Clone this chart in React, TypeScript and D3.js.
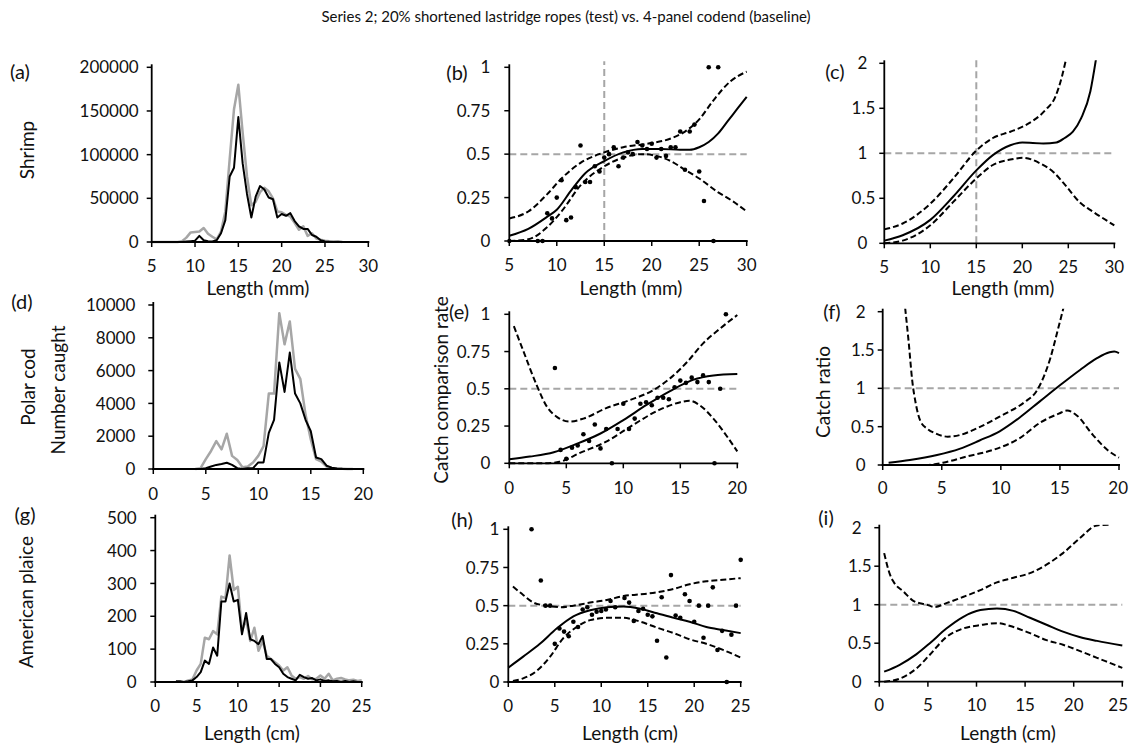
import React from "react";
import * as d3 from "d3";

const FONT = "Lato, 'Open Sans', 'DejaVu Sans', sans-serif";
const GREY = "#a6a6a6";

// ---------------- Length-frequency data ----------------
const shrimpLengths = [5,5.5,6,6.5,7,7.5,8,8.5,9,9.5,10,10.5,11,11.5,12,12.5,13,13.5,14,14.5,15,15.5,16,16.5,17,17.5,18,18.5,19,19.5,20,20.5,21,21.5,22,22.5,23,23.5,24,24.5,25,25.5,26,26.5,27];
const shrimpBaseline = [0,0,0,0,0,0,0,1000,5000,11000,11500,12000,16000,9500,6000,3000,12000,35000,95000,152000,180000,125000,75000,42000,46000,57000,62000,58000,50000,35000,34000,31000,29000,22000,14000,18000,7000,10000,4000,2500,1500,1000,500,1000,0];
const shrimpTest = [0,0,0,0,0,0,0,0,500,1000,1500,7000,2000,1000,500,2000,10000,25000,75000,85000,143000,90000,55000,28000,52000,64000,60000,51000,49000,28000,32000,30000,33000,24000,18000,15000,15000,8000,6000,2000,500,200,100,0,0];

const codLengths = [4,4.5,5,5.5,6,6.5,7,7.5,8,8.5,9,9.5,10,10.5,11,11.5,12,12.5,13,13.5,14,14.5,15,15.5,16,16.5,17,17.5,18,18.5,19];
const codBaseline = [0,50,600,1100,1700,1200,2150,800,550,100,150,400,800,1400,4600,4600,9500,7600,9000,6100,5500,3300,1800,600,450,150,50,20,10,0,0];
const codTest = [0,0,50,150,250,300,380,250,50,0,50,50,400,400,2200,3000,6500,4700,7100,4600,4000,3000,2300,700,600,200,80,30,10,0,0];

const plaiceLengths = [2.5,3,3.5,4,4.5,5,5.5,6,6.5,7,7.5,8,8.5,9,9.5,10,10.5,11,11.5,12,12.5,13,13.5,14,14.5,15,15.5,16,16.5,17,17.5,18,18.5,19,19.5,20,20.5,21,21.5,22,22.5,23,23.5,24,24.5,25];
const plaiceBaseline: (number | null)[] = [null,null,0,5,8,35,55,135,130,155,145,260,255,385,280,290,155,190,125,165,95,125,80,70,60,50,35,45,20,10,15,10,18,8,10,20,10,25,5,10,12,8,5,7,3,5];
const plaiceTest = [2,2,0,2,5,15,30,65,55,105,80,245,245,300,245,250,145,210,130,125,115,140,70,70,55,45,25,15,10,5,22,15,10,12,5,8,3,5,2,3,1,3,0,2,0,0];

// ---------------- Catch comparison observations ----------------
const shrimpCCX = [5,8,8.5,9,9.5,10,10.5,11,11.5,12,12.5,13,13.5,14,14.5,15,15.5,16,16.5,17,17.5,18,18.5,19,19.5,20,20.5,21,21.5,22,22.5,23,23.5,24,24.5,25,25.5,26,26.5,27];
const shrimpCCY = [0,0,0,0.16,0.13,0.25,0.35,0.12,0.135,0.31,0.55,0.34,0.34,0.43,0.40,0.48,0.50,0.54,0.43,0.48,0.51,0.50,0.57,0.55,0.53,0.56,0.48,0.53,0.49,0.54,0.54,0.63,0.41,0.63,0.67,0.40,0.23,1.0,0,1.0];
const codCCX = [4,4.5,5,5.5,6,6.5,7,7.5,8,8.5,9,9.5,10,10.5,11,11.5,12,12.5,13,13.5,14,14.5,15,15.5,16,16.5,17,17.5,18,18.5,19];
const codCCY = [0.64,0.09,0.03,0.105,0.12,0.195,0.15,0.26,0.10,0.23,0,0.23,0.40,0.23,0.30,0.40,0.41,0.39,0.44,0.44,0.43,0.51,0.555,0.54,0.575,0.545,0.59,0.545,0,0.50,1.0];
const plaiceCCX = [2.5,3.5,4,4.5,5,5.5,6,6.5,7,7.5,8,8.5,9,9.5,10,10.5,11,11.5,12.5,13,13.5,14,14.5,15,15.5,16,16.5,17,17.5,18,18.5,19,19.5,20,20.5,21,21.5,22,22.5,23,23.5,24,24.5,25];
const plaiceCCY = [1.0,0.665,0.5,0.5,0.25,0.35,0.33,0.30,0.395,0.36,0.475,0.49,0.44,0.46,0.465,0.475,0.53,0.49,0.55,0.52,0.40,0.465,0.48,0.44,0.43,0.27,0.555,0.16,0.70,0.435,0.42,0.575,0.53,0.395,0.5,0.29,0.5,0.62,0.21,0.335,0,0.31,0.5,0.80];

// ---------------- Fitted curves (estimate, upper CI, lower CI) ----------------
const bFitX = [5,7,9,10,11.5,13,15,17,19,21,23,24,25,26,27,28,29,30];
const bFitY = [0.03,0.07,0.14,0.18,0.29,0.39,0.46,0.51,0.53,0.53,0.525,0.525,0.54,0.57,0.62,0.69,0.76,0.83];
const bUpX = [5,7,9,10.5,12.5,15,17,19.5,22,23.5,25,26.5,28.3,30];
const bUpY = [0.13,0.17,0.27,0.36,0.45,0.51,0.54,0.56,0.59,0.63,0.70,0.81,0.92,0.975];
const bLoX = [5,7,9,10.5,12.5,15,17,19,20.5,22,23.5,25,27,28.5,30];
const bLoY = [0,0.01,0.08,0.17,0.32,0.43,0.48,0.50,0.49,0.46,0.41,0.36,0.28,0.23,0.17];

const cFitX = [5,7,10,12.5,15,16.8,18.7,20,22.3,23.7,24.6,25.5,26.4,27.4,28];
const cFitY = [0.03,0.09,0.26,0.52,0.81,0.98,1.09,1.12,1.11,1.12,1.17,1.24,1.39,1.69,2.04];
const cUpX = [5,7,10,12.5,15,16.8,18.7,20.3,22.5,23.6,24.3,24.7];
const cUpY = [0.155,0.22,0.44,0.72,1.03,1.17,1.24,1.31,1.48,1.63,1.85,2.02];
const cLoX = [5,7,10,12.5,15,16.8,18.7,20.1,21.9,23.4,24.8,26.3,27.7,30];
const cLoY = [0,0.03,0.2,0.46,0.72,0.87,0.93,0.95,0.89,0.79,0.63,0.45,0.35,0.2];

const eFitX = [0,1.8,3.9,5.9,8,10,12,14.1,16.1,17.9,20];
const eFitY = [0.027,0.045,0.074,0.13,0.2,0.29,0.39,0.485,0.56,0.59,0.6];
const eUpX = [0.4,1.2,2.4,3.3,4.2,5.3,6.5,8.5,10.6,12.6,14.1,15.6,17,18.5,20];
const eUpY = [0.92,0.76,0.525,0.38,0.31,0.28,0.3,0.37,0.425,0.49,0.57,0.68,0.805,0.905,0.995];
const eLoX = [0,3,4.4,6.2,8.5,10.9,13.2,15,15.8,16.7,17.9,19.1,20];
const eLoY = [0,0,0.01,0.07,0.145,0.26,0.36,0.41,0.42,0.39,0.30,0.18,0.08];

const fFitX = [0.5,2.3,4.6,6.5,8.2,9.9,11.6,13.3,15,16.7,18.1,19.2,19.6,20];
const fFitY = [0.03,0.065,0.13,0.21,0.32,0.44,0.62,0.83,1.04,1.24,1.39,1.47,1.48,1.46];
const fUpX = [1.9,2.2,2.5,2.8,3.2,3.8,4.5,5.5,6.5,8,10,12,13,13.6,14.2,14.8,15.3];
const fUpY = [2.05,1.6,1.1,0.8,0.57,0.47,0.41,0.37,0.39,0.48,0.64,0.82,0.96,1.14,1.4,1.75,2.05];
const fLoX = [0.5,3.7,5.1,7.1,9.4,11.6,13.3,14.9,15.6,16.4,17.8,19,20];
const fLoY = [0,0,0.03,0.11,0.2,0.35,0.55,0.67,0.71,0.65,0.39,0.2,0.095];

const hFitX = [0,1.6,3.4,5.2,7,8.8,10.6,12.4,14.2,16,17.8,19.5,21.3,23.1,25];
const hFitY = [0.094,0.166,0.25,0.35,0.43,0.47,0.49,0.495,0.48,0.45,0.42,0.395,0.36,0.34,0.32];
const hUpX = [0.5,1.6,2.7,4.1,5.6,7,8.8,10.6,12.4,14.2,16,17.8,19.5,21.3,23.1,25];
const hUpY = [0.625,0.57,0.52,0.5,0.49,0.5,0.52,0.537,0.563,0.574,0.587,0.61,0.64,0.66,0.67,0.68];
const hLoX = [0.5,1.6,3,4.5,5.9,7.35,8.8,10.6,12.4,14.2,16,17.8,19.5,21.3,23.1,25];
const hLoY = [0.007,0.024,0.07,0.166,0.286,0.36,0.405,0.42,0.42,0.395,0.356,0.32,0.28,0.25,0.21,0.16];

const iFitX = [0.5,2.1,3.8,5.2,6.9,8.6,10.4,12.1,13.8,15.5,17.2,18.9,20.6,22.4,25];
const iFitY = [0.13,0.22,0.355,0.5,0.69,0.84,0.93,0.95,0.92,0.83,0.74,0.65,0.58,0.53,0.47];
const iUpX = [0.5,1.1,1.45,2.5,3.5,4.9,5.7,6.9,8.6,10.4,12.1,13.8,15.5,17.2,18.9,20.6,22.4,23.7];
const iUpY = [1.67,1.39,1.3,1.17,1.05,1.0,0.97,1.02,1.1,1.19,1.29,1.35,1.41,1.52,1.67,1.86,2.03,2.04];
const iLoX = [0.5,2.1,3.8,5.2,6.9,8.6,10.4,12.1,13.8,15.5,17.2,18.9,20.6,22.4,25];
const iLoY = [0,0.04,0.17,0.35,0.58,0.69,0.735,0.76,0.71,0.63,0.54,0.48,0.4,0.31,0.18];

// ---------------- Ticks ----------------
const shrimpLenTicks = [5,10,15,20,25,30];
const codLenTicks = [0,5,10,15,20];
const plaiceLenTicks = [0,5,10,15,20,25];
const shrimpCountTicks = [0,50000,100000,150000,200000];
const codCountTicks = [0,2000,4000,6000,8000,10000];
const plaiceCountTicks = [0,100,200,300,400,500];
const rateTicks = [0,0.25,0.5,0.75,1];
const ratioTicks = [0,0.5,1,1.5,2];

const TITLE = "Series 2; 20% shortened lastridge ropes (test) vs. 4-panel codend (baseline)";

type Line = { xs: number[]; ys: (number | null)[]; color: string; width: number; dash?: string; smooth?: boolean };

interface Spec {
  id: string;
  label: string; labelX: number; labelY: number;
  x0: number; x1: number; yb: number; yt: number;
  xDomain: [number, number]; yDomain: [number, number];
  xTicks: number[]; yTicks: number[];
  yLabelGap: number; intShift?: number;
  xLabelY: number;
  hRef?: number; vRef?: number;
  lines: Line[];
  pts?: { xs: number[]; ys: number[] };
}

const W = 1129;
const TICK_FS = 17;
const solid = (xs: number[], ys: number[]): Line => ({ xs, ys, color: "#000", width: 2, smooth: true });
const dashed = (xs: number[], ys: number[]): Line => ({ xs, ys, color: "#000", width: 2, dash: "6,3", smooth: true });
const baseLine = (xs: number[], ys: (number | null)[]): Line => ({ xs, ys, color: GREY, width: 2.5 });
const testLine = (xs: number[], ys: (number | null)[]): Line => ({ xs, ys, color: "#000", width: 2 });

function Panel({ s }: { s: Spec }) {
  const x = d3.scaleLinear().domain(s.xDomain).range([s.x0, s.x1]);
  const y = d3.scaleLinear().domain(s.yDomain).range([s.yb, s.yt]);
  const clipId = `clip-${s.id}`;
  return (
    <g>
      <defs>
        <clipPath id={clipId}>
          <rect x={s.x0 - 2} y={s.yt - 3} width={s.x1 - s.x0 + 6} height={s.yb - s.yt + 6} />
        </clipPath>
      </defs>
      {s.hRef !== undefined && (
        <line x1={s.x0} x2={s.x1} y1={y(s.hRef)} y2={y(s.hRef)} stroke={GREY} strokeWidth={2} strokeDasharray="7,4" />
      )}
      {s.vRef !== undefined && (
        <line x1={x(s.vRef)} x2={x(s.vRef)} y1={s.yb} y2={s.yt - 6} stroke={GREY} strokeWidth={2} strokeDasharray="7,4" />
      )}
      <g clipPath={`url(#${clipId})`}>
        {s.lines.map((l, k) => {
          const gen = d3
            .line<number>()
            .defined((i) => l.ys[i] !== null)
            .x((i) => x(l.xs[i]))
            .y((i) => y(l.ys[i] as number))
            .curve(l.smooth ? d3.curveMonotoneX : d3.curveLinear);
          return (
            <path key={k} d={gen(d3.range(l.xs.length)) || ""} fill="none" stroke={l.color} strokeWidth={l.width}
              strokeDasharray={l.dash} strokeLinejoin="round" />
          );
        })}
        {s.pts && s.pts.xs.map((px, i) => (
          <circle key={i} cx={x(px)} cy={y(s.pts!.ys[i])} r={2.3} fill="#000" />
        ))}
      </g>
      {/* axes */}
      <line x1={s.x0} x2={s.x0} y1={s.yb + 1} y2={s.yt - 3} stroke="#000" strokeWidth={1.8} />
      <line x1={s.x0 - 1} x2={s.x1 + 1} y1={s.yb} y2={s.yb} stroke="#000" strokeWidth={1.8} />
      {s.yTicks.map((v) => (
        <g key={"y" + v}>
          <line x1={s.x0 - 5} x2={s.x0} y1={y(v)} y2={y(v)} stroke="#000" strokeWidth={1.5} />
          <text x={s.x0 - s.yLabelGap - (Number.isInteger(v) && s.intShift ? s.intShift : 0)} y={y(v)} dy="0.36em"
            textAnchor="end" fontSize={TICK_FS} fontFamily={FONT} fill="#111">{String(v)}</text>
        </g>
      ))}
      {s.xTicks.map((v) => {
        const px = x(v);
        const nearEdge = px > W - 14;
        return (
          <g key={"x" + v}>
            <line x1={px} x2={px} y1={s.yb} y2={s.yb + 5} stroke="#000" strokeWidth={1.5} />
            <text x={nearEdge ? W - 1 : px} y={s.xLabelY} dy="0.36em" textAnchor={nearEdge ? "end" : "middle"}
              fontSize={TICK_FS} fontFamily={FONT} fill="#111">{String(v)}</text>
          </g>
        );
      })}
      <text x={s.labelX} y={s.labelY} dy="0.36em" textAnchor="middle" fontSize={20} fontFamily={FONT} fill="#111">{s.label}</text>
    </g>
  );
}

const specs: Spec[] = [
  {
    id: "a", label: "(a)", labelX: 20, labelY: 72,
    x0: 151.7, x1: 368.3, yb: 242, yt: 67.3, xDomain: [5, 30], yDomain: [0, 200000],
    xTicks: shrimpLenTicks, yTicks: shrimpCountTicks, yLabelGap: 13, xLabelY: 266,
    lines: [baseLine(shrimpLengths, shrimpBaseline), testLine(shrimpLengths, shrimpTest)],
  },
  {
    id: "b", label: "(b)", labelX: 457, labelY: 73,
    x0: 509.3, x1: 746.7, yb: 241, yt: 67.3, xDomain: [5, 30], yDomain: [0, 1],
    xTicks: shrimpLenTicks, yTicks: rateTicks, yLabelGap: 19, xLabelY: 265, hRef: 0.5, vRef: 15,
    lines: [solid(bFitX, bFitY), dashed(bUpX, bUpY), dashed(bLoX, bLoY)],
    pts: { xs: shrimpCCX, ys: shrimpCCY },
  },
  {
    id: "c", label: "(c)", labelX: 835, labelY: 72,
    x0: 884.3, x1: 1114.3, yb: 243.3, yt: 63.3, xDomain: [5, 30], yDomain: [0, 2],
    xTicks: shrimpLenTicks, yTicks: ratioTicks, yLabelGap: 9, intShift: 8, xLabelY: 266.7, hRef: 1, vRef: 15,
    lines: [solid(cFitX, cFitY), dashed(cUpX, cUpY), dashed(cLoX, cLoY)],
  },
  {
    id: "d", label: "(d)", labelX: 22, labelY: 302,
    x0: 153.3, x1: 363.3, yb: 469, yt: 305, xDomain: [0, 20], yDomain: [0, 10000],
    xTicks: codLenTicks, yTicks: codCountTicks, yLabelGap: 18, xLabelY: 494,
    lines: [baseLine(codLengths, codBaseline), testLine(codLengths, codTest)],
  },
  {
    id: "e", label: "(e)", labelX: 459, labelY: 312,
    x0: 509.3, x1: 737.3, yb: 463.3, yt: 314.3, xDomain: [0, 20], yDomain: [0, 1],
    xTicks: codLenTicks, yTicks: rateTicks, yLabelGap: 19, xLabelY: 488, hRef: 0.5,
    lines: [solid(eFitX, eFitY), dashed(eUpX, eUpY), dashed(eLoX, eLoY)],
    pts: { xs: codCCX, ys: codCCY },
  },
  {
    id: "f", label: "(f)", labelX: 832, labelY: 312,
    x0: 882.7, x1: 1119, yb: 465, yt: 311.7, xDomain: [0, 20], yDomain: [0, 2],
    xTicks: codLenTicks, yTicks: ratioTicks, yLabelGap: 8, intShift: 9, xLabelY: 488, hRef: 1,
    lines: [solid(fFitX, fFitY), dashed(fUpX, fUpY), dashed(fLoX, fLoY)],
  },
  {
    id: "g", label: "(g)", labelX: 25, labelY: 515,
    x0: 155.3, x1: 361.7, yb: 682, yt: 517.7, xDomain: [0, 25], yDomain: [0, 500],
    xTicks: plaiceLenTicks, yTicks: plaiceCountTicks, yLabelGap: 18.6, xLabelY: 706,
    lines: [baseLine(plaiceLengths, plaiceBaseline), testLine(plaiceLengths, plaiceTest)],
  },
  {
    id: "h", label: "(h)", labelX: 462, labelY: 520,
    x0: 508.3, x1: 740.7, yb: 682, yt: 529.3, xDomain: [0, 25], yDomain: [0, 1],
    xTicks: plaiceLenTicks, yTicks: rateTicks, yLabelGap: 9, xLabelY: 706, hRef: 0.5,
    lines: [solid(hFitX, hFitY), dashed(hUpX, hUpY), dashed(hLoX, hLoY)],
    pts: { xs: plaiceCCX, ys: plaiceCCY },
  },
  {
    id: "i", label: "(i)", labelX: 826, labelY: 518,
    x0: 879.3, x1: 1122.3, yb: 681.7, yt: 527.7, xDomain: [0, 25], yDomain: [0, 2],
    xTicks: plaiceLenTicks, yTicks: ratioTicks, yLabelGap: 7.6, intShift: 10, xLabelY: 705, hRef: 1,
    lines: [solid(iFitX, iFitY), dashed(iUpX, iUpY), dashed(iLoX, iLoY)],
  },
];

const T = (p: { x: number; y: number; rot?: boolean; size?: number; children: string }) => (
  <text x={p.x} y={p.y} dy="0.36em" textAnchor="middle" fontSize={p.size ?? 19} fontFamily={FONT} fill="#111"
    transform={p.rot ? `rotate(-90 ${p.x} ${p.y})` : undefined}>{p.children}</text>
);

export default function App() {
  return (
    <svg width={W} height={745} style={{ position: "absolute", left: 0, top: 0, background: "#fff" }}>
      <rect x={0} y={0} width={W} height={745} fill="#fff" />
      <T x={566} y={17} size={15}>{TITLE}</T>
      {specs.map((s) => <Panel key={s.id} s={s} />)}
      <T x={258} y={288}>Length (mm)</T>
      <T x={631} y={288}>Length (mm)</T>
      <T x={1003} y={288}>Length (mm)</T>
      <T x={252} y={733}>Length (cm)</T>
      <T x={630} y={733}>Length (cm)</T>
      <T x={1008} y={733}>Length (cm)</T>
      <T x={27} y={150} rot>Shrimp</T>
      <T x={28} y={387} rot>Polar cod</T>
      <T x={58} y={390} rot>Number caught</T>
      <T x={26} y={602} rot>American plaice</T>
      <T x={441} y={390} rot>Catch comparison rate</T>
      <T x={823} y={392} rot>Catch ratio</T>
    </svg>
  );
}
